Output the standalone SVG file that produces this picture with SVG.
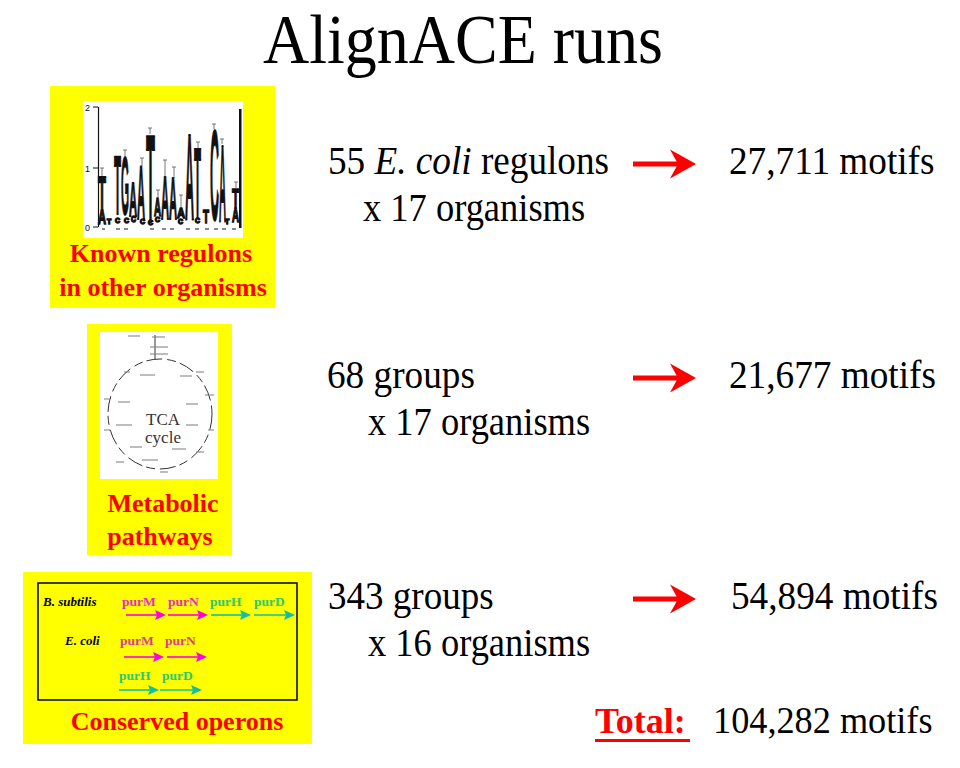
<svg xmlns="http://www.w3.org/2000/svg" width="960" height="768" viewBox="0 0 960 768">
<style>
.ser{font-family:"Liberation Serif","Times New Roman",serif;fill:#000}
.main{font-size:39px}
.lbl{font-family:"Liberation Serif","Times New Roman",serif;font-weight:bold;font-size:26px;fill:#ff0000;text-anchor:middle}
.logo{font-family:"Liberation Sans",Arial,sans-serif;font-weight:bold;font-size:10px;fill:#111;stroke:#111;stroke-width:1.3px;vector-effect:non-scaling-stroke}
.logo text{vector-effect:non-scaling-stroke}
.ax{font-family:"Liberation Sans",Arial,sans-serif;font-size:9px;fill:#111}
.op{font-family:"Liberation Serif","Times New Roman",serif;font-weight:bold;font-size:13.5px}
.org{font-family:"Liberation Serif","Times New Roman",serif;font-weight:bold;font-style:italic;font-size:13px;fill:#000}
.mag{fill:#e830c0}
.mag2{fill:#e03c90}
.grn{fill:#2dc878}
.bar{stroke:#555;stroke-width:0.8}
.mk{stroke:#888;stroke-width:1.1}
.ma{stroke:#ff00e0;stroke-width:1.6;fill:none}
.ta{stroke:#10c0a0;stroke-width:1.6;fill:none}
</style>
<defs>
<path id="bigArrow" d="M0,-2.5 H46 V2.5 H0 Z M37,-14.5 L63,0 L37,14.5 L45,0 Z" fill="#ff0000"/>
<path id="magHead" d="M0,0 L-11,-5 L-9,0 L-11,5 Z" fill="#ff00e0"/>
<path id="tealHead" d="M0,0 L-11,-5 L-9,0 L-11,5 Z" fill="#10c0a0"/>
</defs>
<rect width="960" height="768" fill="#fff"/>

<text class="ser" x="263" y="63" font-size="70" textLength="400" lengthAdjust="spacingAndGlyphs">AlignACE runs</text>

<!-- Panel 1: known regulons -->
<g id="node-known-regulons">
<rect x="50" y="86" width="225" height="222" fill="#ffff00"/>
<rect x="83" y="101" width="160" height="137" fill="#fff"/>
<line x1="98.5" y1="107" x2="98.5" y2="227" stroke="#111" stroke-width="1.2"/>
<line x1="93" y1="107" x2="98" y2="107" stroke="#111"/>
<line x1="93" y1="168" x2="98" y2="168" stroke="#111"/>
<line x1="93" y1="227" x2="98" y2="227" stroke="#111"/>
<text class="ax" x="85" y="111">2</text>
<text class="ax" x="85" y="172">1</text>
<text class="ax" x="85" y="231">0</text>
<rect x="239" y="109" width="2.5" height="119" fill="#111"/>
<g class="logo">
<text transform="matrix(1.31 0 0 4.89 98 210)">T</text>
<text transform="matrix(1.11 0 0 1.96 98 224)">A</text>
<text transform="matrix(1.15 0 0 8.38 114 214)">T</text>
<text transform="matrix(1.03 0 0 8.1 121 214)">G</text>
<text transform="matrix(1.11 0 0 4.75 129 216)">A</text>
<text transform="matrix(0.69 0 0 0.84 131 222)">C</text>
<text transform="matrix(1.11 0 0 7.54 137 219)">A</text>
<text transform="matrix(1.47 0 0 12.43 146 222)">T</text>
<text transform="matrix(0.97 0 0 2.51 154 216)">A</text>
<text transform="matrix(1.11 0 0 6.15 161 219)">A</text>
<text transform="matrix(1.11 0 0 5.87 169 219)">A</text>
<text transform="matrix(1.11 0 0 1.54 177 218)">A</text>
<text transform="matrix(1.25 0 0 12.15 185 220)">A</text>
<text transform="matrix(1.15 0 0 9.92 194 218)">T</text>
<text transform="matrix(0.69 0 0 0.7 195 223)">C</text>
<text transform="matrix(0.98 0 0 1.82 203 223)">T</text>
<text transform="matrix(1.25 0 0 12.85 210 220)">C</text>
<text transform="matrix(0.97 0 0 10.9 219 221)">A</text>
<text transform="matrix(1.15 0 0 2.79 232 208)">T</text>
<text transform="matrix(0.97 0 0 1.96 232 222)">A</text>
<text transform="matrix(0.7 0 0 0.7 107 224)">T</text>
<text transform="matrix(0.7 0 0 0.7 115 223)">C</text>
<text transform="matrix(0.7 0 0 0.7 124 223)">C</text>
<text transform="matrix(0.7 0 0 0.7 140 224)">C</text>
<text transform="matrix(0.7 0 0 0.7 148 225)">C</text>
<text transform="matrix(0.7 0 0 0.7 155 222)">C</text>
<text transform="matrix(0.7 0 0 0.7 178 224)">C</text>
<text transform="matrix(0.7 0 0 0.7 225 224)">T</text>
</g>
<g class="bar">
<line x1="102" y1="168" x2="102" y2="176"/><line x1="100" y1="168" x2="104" y2="168"/>
<line x1="125" y1="150" x2="125" y2="157"/><line x1="123" y1="150" x2="127" y2="150"/>
<line x1="142" y1="158" x2="142" y2="166"/><line x1="140" y1="158" x2="144" y2="158"/>
<line x1="150" y1="128" x2="150" y2="134"/><line x1="148" y1="128" x2="152" y2="128"/>
<line x1="158" y1="190" x2="158" y2="198"/><line x1="156" y1="190" x2="160" y2="190"/>
<line x1="165" y1="160" x2="165" y2="176"/><line x1="163" y1="160" x2="167" y2="160"/>
<line x1="174" y1="167" x2="174" y2="178"/><line x1="172" y1="167" x2="176" y2="167"/>
<line x1="181" y1="195" x2="181" y2="207"/><line x1="179" y1="195" x2="183" y2="195"/>
<line x1="198" y1="142" x2="198" y2="148"/><line x1="196" y1="142" x2="200" y2="142"/>
<line x1="214" y1="124" x2="214" y2="129"/><line x1="212" y1="124" x2="216" y2="124"/>
<line x1="222" y1="139" x2="222" y2="144"/><line x1="220" y1="139" x2="224" y2="139"/>
<line x1="236" y1="182" x2="236" y2="189"/><line x1="234" y1="182" x2="238" y2="182"/>
</g>
<g fill="#888">
<rect x="102" y="228" width="3" height="2"/><rect x="116" y="228" width="4" height="2"/><rect x="124" y="228" width="4" height="2"/>
<rect x="150" y="228" width="4" height="2"/><rect x="162" y="228" width="4" height="2"/><rect x="170" y="228" width="4" height="2"/>
<rect x="186" y="228" width="4" height="2"/><rect x="195" y="228" width="4" height="2"/><rect x="205" y="228" width="4" height="2"/>
<rect x="214" y="228" width="4" height="2"/><rect x="222" y="228" width="4" height="2"/><rect x="232" y="228" width="4" height="2"/>
</g>
<text class="lbl" x="161" y="262">Known regulons</text>
<text class="lbl" x="163" y="296">in other organisms</text>
</g>

<!-- Panel 2: metabolic pathways -->
<g id="node-metabolic-pathways">
<rect x="87" y="324" width="145" height="231" fill="#ffff00"/>
<rect x="100" y="332" width="118" height="147" fill="#fff"/>
<line x1="155" y1="335" x2="155" y2="359" stroke="#333" stroke-width="1"/>
<ellipse cx="160" cy="414" rx="52" ry="55" fill="none" stroke="#333" stroke-width="1" stroke-dasharray="16 5 9 4"/>
<g class="mk">
<line x1="128" y1="336" x2="140" y2="336"/><line x1="152" y1="337" x2="165" y2="337"/>
<line x1="150" y1="347" x2="168" y2="347"/><line x1="150" y1="354" x2="168" y2="354"/>
<line x1="124" y1="372" x2="130" y2="372"/><line x1="140" y1="375" x2="155" y2="375"/>
<line x1="180" y1="376" x2="192" y2="376"/><line x1="196" y1="372" x2="204" y2="372"/>
<line x1="118" y1="402" x2="130" y2="402"/><line x1="186" y1="404" x2="198" y2="404"/>
<line x1="104" y1="399" x2="110" y2="399"/><line x1="205" y1="395" x2="214" y2="395"/>
<line x1="116" y1="425" x2="132" y2="425"/><line x1="186" y1="425" x2="198" y2="425"/>
<line x1="104" y1="430" x2="110" y2="430"/><line x1="208" y1="430" x2="214" y2="430"/>
<line x1="130" y1="447" x2="142" y2="447"/><line x1="172" y1="449" x2="186" y2="449"/>
<line x1="142" y1="460" x2="158" y2="460"/><line x1="196" y1="452" x2="204" y2="452"/>
<line x1="116" y1="462" x2="124" y2="462"/><line x1="160" y1="472" x2="168" y2="472"/>
</g>
<text class="ser" x="163" y="425" font-size="17" text-anchor="middle" style="fill:#333">TCA</text>
<text class="ser" x="163" y="443" font-size="17" text-anchor="middle" style="fill:#333">cycle</text>
<text class="lbl" x="163" y="512">Metabolic</text>
<text class="lbl" x="160" y="545">pathways</text>
</g>

<!-- Panel 3: conserved operons -->
<g id="node-conserved-operons">
<rect x="23" y="572" width="289" height="172" fill="#ffff00"/>
<rect x="38" y="583" width="259" height="117" fill="none" stroke="#000" stroke-width="1.5"/>
<text class="org" x="43" y="606">B. subtilis</text>
<text class="org" x="65" y="645">E. coli</text>
<text class="op mag" x="122" y="606">purM</text>
<text class="op mag" x="168" y="606">purN</text>
<text class="op grn" x="210" y="606">purH</text>
<text class="op grn" x="254" y="606">purD</text>
<text class="op mag2" x="120" y="645">purM</text>
<text class="op mag2" x="165" y="645">purN</text>
<text class="op grn" x="119" y="680">purH</text>
<text class="op grn" x="162" y="680">purD</text>
<g id="operon-arrows">
<line class="ma" x1="126" y1="615" x2="158" y2="615"/><use href="#magHead" x="166" y="615"/>
<line class="ma" x1="168" y1="615" x2="200" y2="615"/><use href="#magHead" x="208" y="615"/>
<line class="ta" x1="211" y1="615" x2="243" y2="615"/><use href="#tealHead" x="251" y="615"/>
<line class="ta" x1="254" y1="615" x2="287" y2="615"/><use href="#tealHead" x="295" y="615"/>
<line class="ma" x1="124" y1="657" x2="156" y2="657"/><use href="#magHead" x="164" y="657"/>
<line class="ma" x1="167" y1="657" x2="199" y2="657"/><use href="#magHead" x="207" y="657"/>
<line class="ta" x1="119" y1="690" x2="151" y2="690"/><use href="#tealHead" x="159" y="690"/>
<line class="ta" x1="160" y1="690" x2="194" y2="690"/><use href="#tealHead" x="202" y="690"/>
</g>
<text class="lbl" x="177" y="730">Conserved operons</text>
</g>

<!-- Row texts -->
<g id="node-row1">
<text class="ser main" transform="translate(328 174) scale(0.954 1)">55 <tspan font-style="italic">E. coli</tspan> regulons</text>
<text class="ser main" transform="translate(363 221) scale(0.935 1)">x 17 organisms</text>
</g>
<g id="node-result1"><text class="ser main" transform="translate(729 174) scale(0.955 1)">27,711 motifs</text></g>
<g id="node-row2">
<text class="ser main" transform="translate(327 388) scale(0.955 1)">68 groups</text>
<text class="ser main" transform="translate(368 435) scale(0.935 1)">x 17 organisms</text>
</g>
<g id="node-result2"><text class="ser main" transform="translate(729 388) scale(0.955 1)">21,677 motifs</text></g>
<g id="node-row3">
<text class="ser main" transform="translate(328 609) scale(0.95 1)">343 groups</text>
<text class="ser main" transform="translate(368 656) scale(0.935 1)">x 16 organisms</text>
</g>
<g id="node-result3"><text class="ser main" transform="translate(731 609) scale(0.955 1)">54,894 motifs</text></g>

<g id="node-total">
<text x="595" y="733" font-family="'Liberation Serif','Times New Roman',serif" font-weight="bold" font-size="36" fill="#ff0000">Total:</text>
<rect x="595" y="739" width="95" height="3" fill="#ff0000"/>
<text class="ser main" transform="translate(713 733) scale(0.93 1)">104,282 motifs</text>
</g>

<g id="connectors">
<use href="#bigArrow" x="633" y="164"/>
<use href="#bigArrow" x="633" y="378"/>
<use href="#bigArrow" x="633" y="599"/>
</g>
</svg>
